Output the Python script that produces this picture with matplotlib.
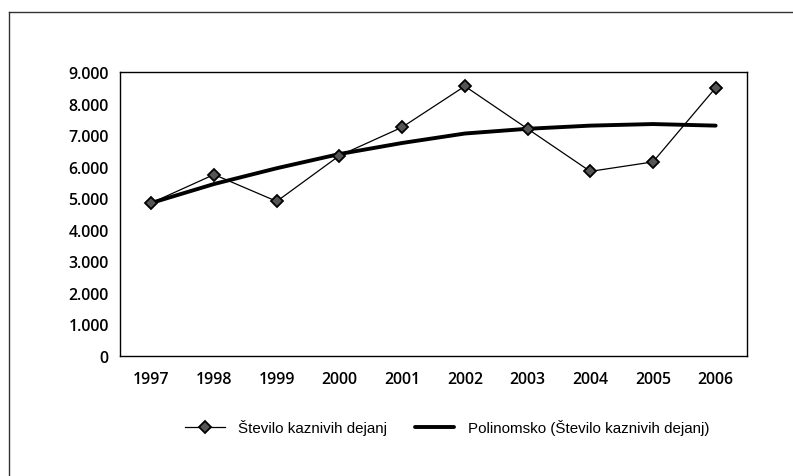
import matplotlib
matplotlib.use('Agg')
import matplotlib.pyplot as plt
from matplotlib.lines import Line2D

years = ['1997', '1998', '1999', '2000', '2001', '2002', '2003', '2004', '2005', '2006']
kazniva_dejanja = [4850, 5750, 4900, 6350, 7250, 8550, 7200, 5850, 6150, 8500]
polinomsko = [4850, 5450, 5950, 6400, 6750, 7050, 7200, 7300, 7350, 7300]
y_ticks = [0, 1000, 2000, 3000, 4000, 5000, 6000, 7000, 8000, 9000]
y_labels = ['0', '1.000', '2.000', '3.000', '4.000', '5.000', '6.000', '7.000', '8.000', '9.000']

fig = plt.figure(figsize=(7.93, 4.77), dpi=100)
ax = fig.add_axes([0.1513, 0.2516, 0.7907, 0.5954])

x = [i + 0.5 for i in range(len(years))]
ax.plot(x, kazniva_dejanja, color='black', linewidth=0.9, marker='D', markersize=6,
        markerfacecolor='#555555', markeredgecolor='black', markeredgewidth=1.3,
        label='Število kaznivih dejanj', zorder=3)
ax.plot(x, polinomsko, color='black', linewidth=2.8, solid_capstyle='round',
        label='Polinomsko (Število kaznivih dejanj)', zorder=2)

ax.set_xlim(0, len(years))
ax.set_ylim(0, 9000)
ax.set_xticks(x)
ax.set_xticklabels(years)
ax.set_yticks(y_ticks)
ax.set_yticklabels(y_labels)
for lab in ax.get_xticklabels() + ax.get_yticklabels():
    lab.set_fontfamily('Open Sans')
    lab.set_fontsize(11.4)
    lab.set_fontweight('semibold')
ax.tick_params(axis='x', length=0, pad=11)
ax.tick_params(axis='y', length=0, pad=8)
for s in ax.spines.values():
    s.set_linewidth(1.0)
    s.set_color('black')

# outer frame of the original figure (top and left only)
fig.add_artist(Line2D([9 / 793, 1.0], [1 - 13 / 477, 1 - 13 / 477], color='#333333', linewidth=1.0))
fig.add_artist(Line2D([9 / 793, 9 / 793], [0.0, 1 - 13 / 477], color='#333333', linewidth=1.0))

fig.legend(loc='center', bbox_to_anchor=(0.564, 0.103), ncol=2, frameon=False,
           prop={'family': 'Liberation Sans', 'size': 10.9},
           handlelength=2.6, columnspacing=1.8, handletextpad=0.9)

fig.savefig('out.png', dpi=100)
